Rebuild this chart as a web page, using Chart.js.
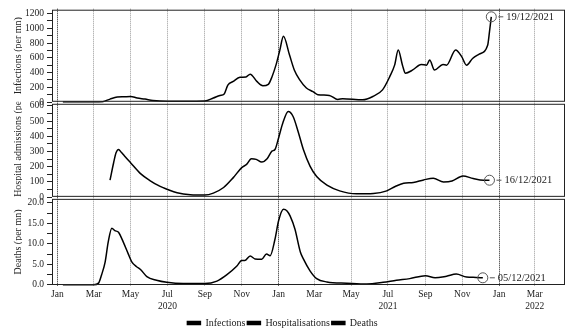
<!DOCTYPE html>
<html>
<head>
  <meta charset="UTF-8" />
  <title>Infections, hospitalisations and deaths</title>
  <script src="https://cdn.jsdelivr.net/npm/chart.js"></script>
  <style>
    body { margin: 0; background: white; }
    #wrap { width: 580px; height: 334px; }
  </style>
</head>
<body>
  <div id="wrap"><canvas id="covidChart"></canvas></div>
  <script>
    const infDates = ['2020-01-10','2020-03-01','2020-03-16','2020-03-28','2020-04-09','2020-04-20','2020-05-01','2020-05-12','2020-05-25','2020-06-07','2020-07-01','2020-07-30','2020-09-01','2020-09-15','2020-09-26','2020-10-03','2020-10-09','2020-10-18','2020-10-29','2020-11-08','2020-11-15','2020-11-26','2020-12-06','2020-12-15','2020-12-21','2020-12-28','2021-01-03','2021-01-09','2021-01-19','2021-01-27','2021-02-05','2021-02-16','2021-02-27','2021-03-07','2021-03-26','2021-04-09','2021-04-17','2021-05-20','2021-06-06','2021-06-22','2021-07-04','2021-07-12','2021-07-18','2021-07-25','2021-07-30','2021-08-11','2021-08-25','2021-09-03','2021-09-08','2021-09-16','2021-09-30','2021-10-06','2021-10-21','2021-10-31','2021-11-08','2021-11-18','2021-11-29','2021-12-13','2021-12-16','2021-12-19'];
    const infValues = [0,0,5,40,68,72,75,55,40,22,12,12,15,55,90,110,230,280,335,340,378,280,220,240,340,510,700,890,640,435,300,190,140,100,90,35,45,30,75,165,345,500,705,500,390,435,510,500,570,435,510,500,705,615,500,590,650,770,950,1155];

    const hospDates = ['2020-03-28','2020-04-03','2020-04-07','2020-04-11','2020-04-16','2020-04-21','2020-05-01','2020-05-17','2020-06-02','2020-06-19','2020-06-30','2020-07-17','2020-08-08','2020-09-01','2020-09-15','2020-10-02','2020-10-18','2020-11-01','2020-11-09','2020-11-17','2020-11-25','2020-12-04','2020-12-13','2020-12-21','2020-12-26','2021-01-01','2021-01-08','2021-01-17','2021-01-25','2021-02-03','2021-02-11','2021-02-22','2021-03-05','2021-03-22','2021-04-12','2021-05-10','2021-06-07','2021-06-29','2021-07-13','2021-07-27','2021-08-12','2021-08-29','2021-09-14','2021-10-01','2021-10-15','2021-11-02','2021-11-19','2021-12-06','2021-12-16'];
    const hospValues = [111,226,291,313,293,270,226,156,109,70,52,28,15,13,26,63,128,194,215,252,248,230,252,302,313,389,487,563,530,422,313,204,135,78,41,22,24,41,70,91,96,113,124,100,106,139,122,111,111];

    const deathDates = ['2020-01-10','2020-03-01','2020-03-09','2020-03-14','2020-03-20','2020-03-25','2020-03-31','2020-04-05','2020-04-11','2020-04-19','2020-04-27','2020-05-03','2020-05-11','2020-05-17','2020-05-28','2020-06-13','2020-06-30','2020-07-27','2020-09-01','2020-09-21','2020-10-07','2020-10-24','2020-11-01','2020-11-06','2020-11-15','2020-11-23','2020-12-04','2020-12-12','2020-12-18','2020-12-26','2021-01-01','2021-01-09','2021-01-15','2021-01-20','2021-01-28','2021-02-06','2021-02-11','2021-02-22','2021-03-05','2021-03-22','2021-04-24','2021-05-27','2021-06-23','2021-07-15','2021-08-06','2021-09-01','2021-09-17','2021-10-06','2021-10-22','2021-11-08','2021-11-24','2021-12-05'];
    const deathValues = [0,0,0.4,2.4,5.6,10.4,13.8,13.2,12.8,10.4,7.6,5.6,4.4,3.8,2.0,1.1,0.6,0.3,0.3,0.9,2.4,4.6,5.9,5.9,7.0,6.3,6.2,7.5,7.1,11.1,15.6,18.4,18.0,16.8,13.6,8.0,6.3,3.4,1.5,0.7,0.4,0.2,0.6,1.1,1.5,2.2,1.7,2.1,2.6,1.9,1.8,1.7];

    const seriesNames = ['Infections', 'Hospitalisations', 'Deaths'];
    const axisTitles = ['Infections (per mn)', 'Hospital admissions (per mn)', 'Deaths (per mn)'];
    const endLabels = ['19/12/2021', '16/12/2021', '05/12/2021'];

    const tickDates = ['2020-01-01','2020-03-01','2020-05-01','2020-07-01','2020-09-01','2020-11-01','2021-01-01','2021-03-01','2021-05-01','2021-07-01','2021-09-01','2021-11-01','2022-01-01','2022-03-01'];
    const tickLabels = ['Jan','Mar','May','Jul','Sep','Nov','Jan','Mar','May','Jul','Sep','Nov','Jan','Mar'];
    const yearLabels = ['','','','2020','','','','','','2021','','','','2022'];

    const t0 = Date.UTC(2020, 0, 1);
    const dayOf = s => Math.round((Date.parse(s) - t0) / 86400000);
    const pairs = (d, v) => d.map((s, i) => ({ x: dayOf(s), y: v[i] }));
    const tickDays = tickDates.map(dayOf);

    const font = 'Liberation Serif';

    function yAxis(min, max, step, labelEvery, digits, weight) {
      return {
        type: 'linear',
        position: 'left',
        stack: 'panels',
        stackWeight: weight,
        min: min,
        max: max,
        afterBuildTicks: s => {
          const t = [];
          for (let v = 0; v <= max + 1e-9; v += step) t.push({ value: v });
          s.ticks = t;
        },
        afterFit: s => { s.width = 52; },
        ticks: {
          autoSkip: false,
          color: '#222',
          font: { family: font, size: 9.5 },
          padding: 3,
          callback: v => (Math.abs(v / labelEvery - Math.round(v / labelEvery)) < 1e-6) ? v.toFixed(digits) : ''
        },
        grid: { drawOnChartArea: false, drawTicks: true, tickLength: 5, color: '#222' },
        border: { display: false }
      };
    }

    // panel frames, clipped axis titles and end-of-series markers
    const panels = {
      id: 'panels',
      afterDatasetsDraw(chart) {
        const ctx = chart.ctx;
        const a = chart.chartArea;
        ctx.save();
        ['y1', 'y2', 'y3'].forEach((id, i) => {
          const s = chart.scales[id];
          ctx.strokeStyle = '#222';
          ctx.lineWidth = 1;
          ctx.strokeRect(a.left + 0.5, s.top + 1.5, a.right - a.left - 1, s.bottom - s.top - 3);

          const ds = chart.data.datasets[i].data;
          const last = ds[ds.length - 1];
          const px = chart.scales.x.getPixelForValue(last.x);
          const py = s.getPixelForValue(last.y);
          ctx.strokeStyle = '#555';
          ctx.beginPath();
          ctx.arc(px, py, 5, 0, Math.PI * 2);
          ctx.stroke();
          ctx.beginPath();
          ctx.moveTo(px + 7, py);
          ctx.lineTo(px + 12, py);
          ctx.stroke();
          ctx.fillStyle = '#222';
          ctx.font = '10.5px "' + font + '"';
          ctx.textBaseline = 'middle';
          ctx.textAlign = 'left';
          ctx.fillText(endLabels[i], px + 15, py);

          // axis title; a long one runs up from the panel bottom and is cut off
          ctx.save();
          ctx.beginPath();
          ctx.rect(0, s.top - 1, a.left - 30, s.bottom - s.top + 1);
          ctx.clip();
          ctx.font = '10px "' + font + '"';
          ctx.fillStyle = '#222';
          const w = ctx.measureText(axisTitles[i]).width;
          const mid = (s.top + s.bottom) / 2;
          const start = w > s.bottom - s.top ? s.bottom - 1 : mid + w / 2;
          ctx.translate(18, start);
          ctx.rotate(-Math.PI / 2);
          ctx.textAlign = 'left';
          ctx.fillText(axisTitles[i], 0, 0);
          ctx.restore();
        });
        ctx.restore();
      }
    };

    const lineStyle = {
      borderColor: '#000',
      backgroundColor: '#000',
      borderWidth: 1.5,
      pointRadius: 0,
      cubicInterpolationMode: 'monotone',
      fill: false
    };

    new Chart(document.getElementById('covidChart'), {
      type: 'line',
      data: {
        datasets: [
          { ...lineStyle, label: seriesNames[0], data: pairs(infDates, infValues), yAxisID: 'y1' },
          { ...lineStyle, label: seriesNames[1], data: pairs(hospDates, hospValues), yAxisID: 'y2' },
          { ...lineStyle, label: seriesNames[2], data: pairs(deathDates, deathValues), yAxisID: 'y3' }
        ]
      },
      options: {
        responsive: true,
        maintainAspectRatio: false,
        animation: false,
        layout: { padding: { left: 0, right: 15, top: 0, bottom: -4 } },
        plugins: {
          legend: {
            position: 'bottom',
            labels: {
              boxWidth: 13,
              boxHeight: 3,
              padding: 2,
              color: '#222',
              font: { family: font, size: 10 }
            }
          },
          tooltip: { enabled: false }
        },
        scales: {
          // last stacked axis goes on top, so list the bottom panel first
          y3: yAxis(-0.3, 21.2, 2.5, 5, 1, 89),
          y2: yAxis(-5, 620, 50, 100, 0, 96),
          y1: yAxis(-10, 1265, 100, 200, 0, 95),
          x: {
            type: 'linear',
            min: -9,
            max: 840,
            afterBuildTicks: s => { s.ticks = tickDays.map(v => ({ value: v })); },
            afterFit: s => { s.height = 30; },
            ticks: {
              autoSkip: false,
              maxRotation: 0,
              color: '#222',
              font: { family: font, size: 9.5 },
              padding: 3,
              callback: (v, i) => yearLabels[i] ? [tickLabels[i], yearLabels[i]] : tickLabels[i]
            },
            grid: {
              drawTicks: false,
              color: ctx => (ctx.tick && tickLabels[ctx.index] === 'Jan') ? '#222' : '#999'
            },
            border: { display: false, dash: [1, 1] }
          }
        }
      },
      plugins: [panels]
    });
  </script>
</body>
</html>
